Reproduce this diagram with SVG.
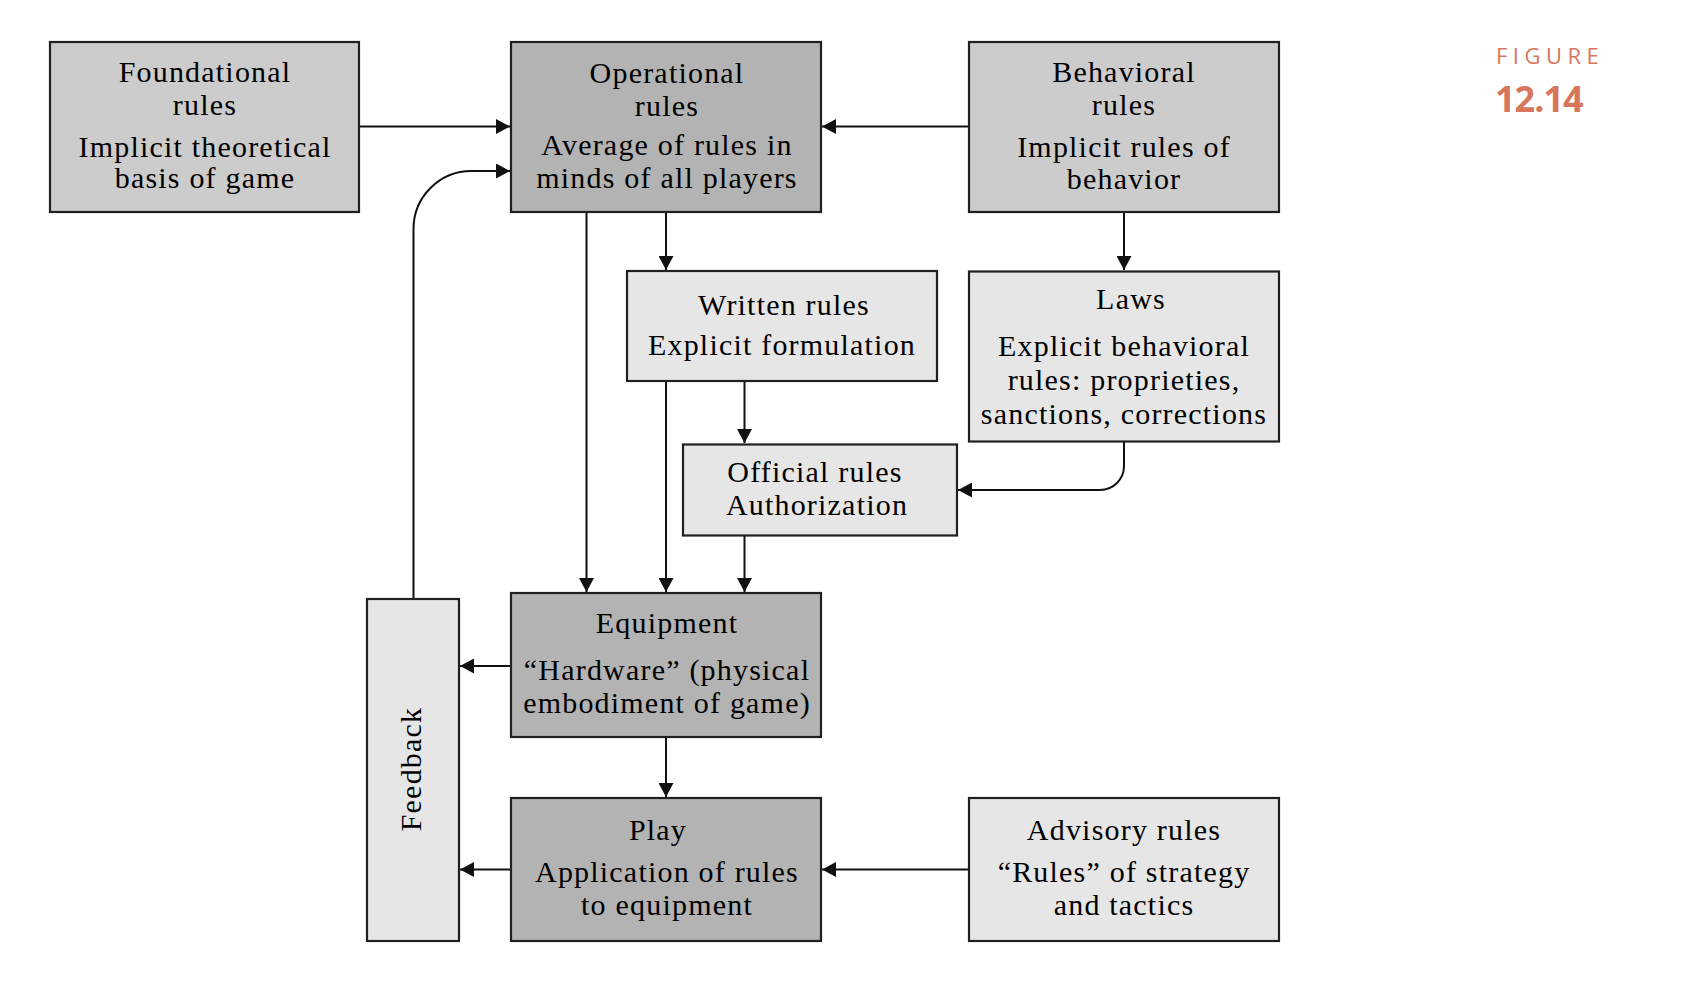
<svg xmlns="http://www.w3.org/2000/svg" width="1684" height="992" viewBox="0 0 1684 992">
<defs>
<marker id="arr" markerUnits="userSpaceOnUse" markerWidth="14" markerHeight="15" refX="14" refY="7.5" orient="auto">
<path d="M0,0 L14,7.5 L0,15 z" fill="#111"/>
</marker>
<style>
.box{stroke:#231f20;stroke-width:2.2}
.dark{fill:#b3b3b3}
.mid{fill:#cccccc}
.light{fill:#e6e6e6}
.t{font-family:"Liberation Serif","Times New Roman",serif;font-size:30px;letter-spacing:1.2px;fill:#000;text-anchor:middle}
.c{fill:none;stroke:#111;stroke-width:2;marker-end:url(#arr)}
.fig{font-family:"Open Sans","Noto Sans",sans-serif;fill:#d7765b}
</style>
</defs>
<rect width="1684" height="992" fill="#fff"/>

<g id="connectors">
<path class="c" d="M359,126.5 L510,126.5"/>
<path class="c" d="M969,126.5 L822,126.5"/>
<path class="c" d="M666,212 L666,270"/>
<path class="c" d="M586.5,212 L586.5,592"/>
<path class="c" d="M1124,212 L1124,270"/>
<path class="c" d="M666,381 L666,592"/>
<path class="c" d="M744.5,381 L744.5,443"/>
<path class="c" d="M744.5,536 L744.5,592"/>
<path class="c" d="M1124,442 L1124,466 A24,24 0 0 1 1100,490 L958,490"/>
<path class="c" d="M511,666 L460,666"/>
<path class="c" d="M511,869.5 L460,869.5"/>
<path class="c" d="M969,869.5 L822,869.5"/>
<path class="c" d="M666,737 L666,797"/>
<path class="c" d="M413.5,599 L413.5,229 A58,58 0 0 1 471.5,171 L510,171"/>
</g>

<g id="foundational">
<rect class="box mid" x="50" y="42" width="309" height="170"/>
<text class="t" x="205" y="82">Foundational</text>
<text class="t" x="205" y="115">rules</text>
<text class="t" x="205" y="157">Implicit theoretical</text>
<text class="t" x="205" y="188">basis of game</text>
</g>

<g id="operational">
<rect class="box dark" x="511" y="42" width="310" height="170"/>
<text class="t" x="667" y="83">Operational</text>
<text class="t" x="667" y="116">rules</text>
<text class="t" x="667" y="155">Average of rules in</text>
<text class="t" x="667" y="188">minds of all players</text>
</g>

<g id="behavioral">
<rect class="box mid" x="969" y="42" width="310" height="170"/>
<text class="t" x="1124" y="82">Behavioral</text>
<text class="t" x="1124" y="115">rules</text>
<text class="t" x="1124" y="157">Implicit rules of</text>
<text class="t" x="1124" y="189">behavior</text>
</g>

<g id="written">
<rect class="box light" x="627" y="271" width="310" height="110"/>
<text class="t" x="784" y="315">Written rules</text>
<text class="t" x="782" y="355">Explicit formulation</text>
</g>

<g id="laws">
<rect class="box light" x="969" y="271.5" width="310" height="170"/>
<text class="t" x="1131" y="309">Laws</text>
<text class="t" x="1124" y="356">Explicit behavioral</text>
<text class="t" x="1124" y="390">rules: proprieties,</text>
<text class="t" x="1124" y="424">sanctions, corrections</text>
</g>

<g id="official">
<rect class="box light" x="683" y="444.5" width="274" height="91"/>
<text class="t" x="815" y="482">Official rules</text>
<text class="t" x="817" y="515">Authorization</text>
</g>

<g id="equipment">
<rect class="box dark" x="511" y="593" width="310" height="144"/>
<text class="t" x="667" y="633">Equipment</text>
<text class="t" x="667" y="680">“Hardware” (physical</text>
<text class="t" x="667" y="713">embodiment of game)</text>
</g>

<g id="play">
<rect class="box dark" x="511" y="798" width="310" height="143"/>
<text class="t" x="658" y="840">Play</text>
<text class="t" x="667" y="882">Application of rules</text>
<text class="t" x="667" y="915">to equipment</text>
</g>

<g id="advisory">
<rect class="box light" x="969" y="798" width="310" height="143"/>
<text class="t" x="1124" y="840">Advisory rules</text>
<text class="t" x="1124" y="882">“Rules” of strategy</text>
<text class="t" x="1124" y="915">and tactics</text>
</g>

<g id="feedback">
<rect class="box light" x="367" y="599" width="92" height="342"/>
<text class="t" x="421" y="769" transform="rotate(-90 421 769)">Feedback</text>
</g>

<g id="figure-label">
<text class="fig" x="1496" y="64" font-size="22" letter-spacing="5.5">FIGURE</text>
<text class="fig" x="1495" y="112" font-size="36" font-weight="bold" letter-spacing="-1">12.14</text>
</g>
</svg>
